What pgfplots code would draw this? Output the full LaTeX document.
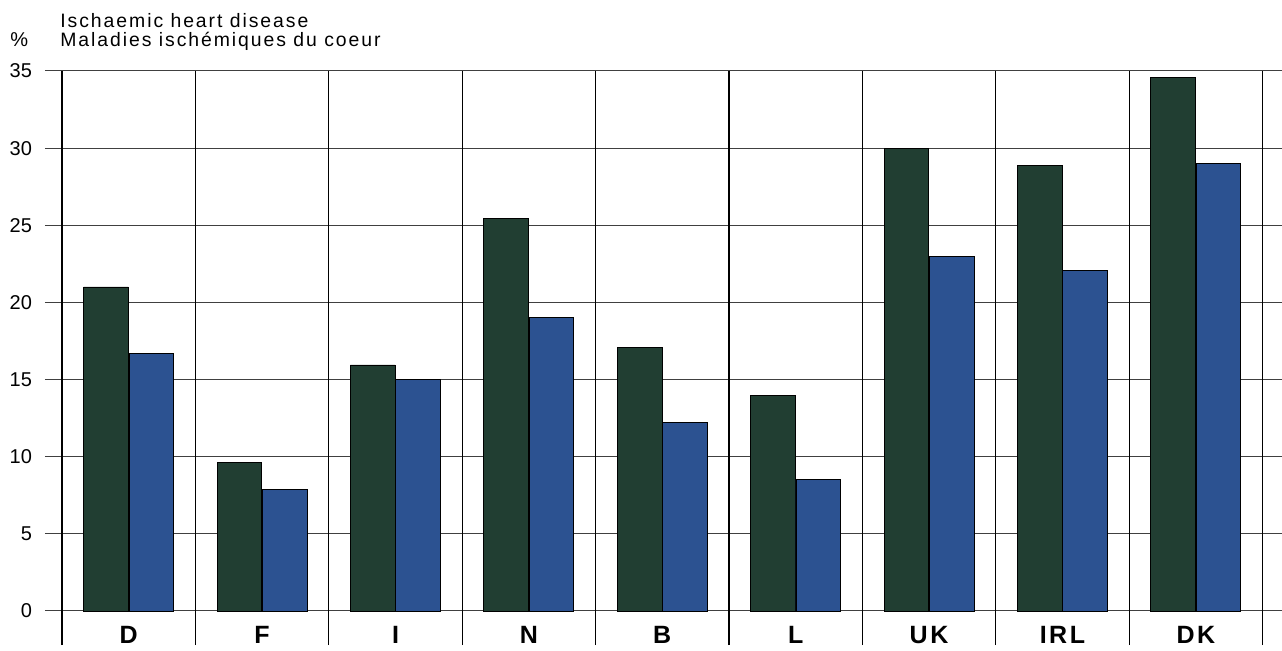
\documentclass[border=0pt]{standalone}
\usepackage{pgfplots}
\pgfplotsset{compat=1.18}
\usepackage{fontspec}
\setmainfont{Liberation Sans}
\newfontfamily\titlefont[LetterSpace=10]{Liberation Sans}
\newfontfamily\catfont[LetterSpace=10]{Liberation Sans}
\definecolor{bargreen}{RGB}{33,62,50}
\definecolor{barblue}{RGB}{44,82,145}
\begin{document}
\begin{tikzpicture}
\begin{axis}[
  scale only axis,
  width=618.5pt, height=287pt,
  xmin=-0.1274, xmax=9.146,
  ymin=-2.204, ymax=35,
  clip=false,
  axis line style={draw=none},
  major tick length=0pt,
  ybar, bar width=0.335,
  xtick={0.5,1.5,...,8.5},
  xticklabels={D,F,I,N,B,L,UK,IRL,DK},
  xticklabel style={anchor=base, yshift=1pt, font=\catfont\fontsize{12.5}{14}\selectfont\bfseries},
  extra x ticks={0,1,...,9},
  extra x tick labels={},
  extra x tick style={xmajorgrids=true},
  x grid style={black, line width=0.6pt},
  ytick={0,5,...,35},
  ymajorgrids=true,
  y grid style={black!75, line width=0.5pt},
  yticklabel style={anchor=east, xshift=-3pt, font=\fontsize{10}{12}\selectfont},
  /pgf/number format/assume math mode=true,
]
\addplot[fill=bargreen, draw=black, line width=0.4pt, bar shift=-0.17] coordinates {
 (0.5,21.0) (1.5,9.6) (2.5,15.95) (3.5,25.45) (4.5,17.1) (5.5,13.95) (6.5,30.0) (7.5,28.9) (8.5,34.6)};
\addplot[fill=barblue, draw=black, line width=0.4pt, bar shift=0.17] coordinates {
 (0.5,16.7) (1.5,7.85) (2.5,15.0) (3.5,19.05) (4.5,12.2) (5.5,8.5) (6.5,23.0) (7.5,22.1) (8.5,29.0)};
\node[anchor=base west, inner sep=0pt, font=\titlefont\fontsize{9.7}{11}\selectfont] at (axis cs:-0.015,37.85) {Ischaemic heart disease};
\node[anchor=base west, inner sep=0pt, font=\titlefont\fontsize{9.7}{11}\selectfont] at (axis cs:-0.015,36.62) {Maladies ischémiques du coeur};
\node[anchor=base west, inner sep=0pt, font=\fontsize{10}{12}\selectfont] at (axis cs:-0.39,36.62) {\%};
\end{axis}
\pgfresetboundingbox
\path (current axis.south west) ++(-22.5pt,-2.5pt) rectangle ++(641pt,325pt);
\end{tikzpicture}
\end{document}
